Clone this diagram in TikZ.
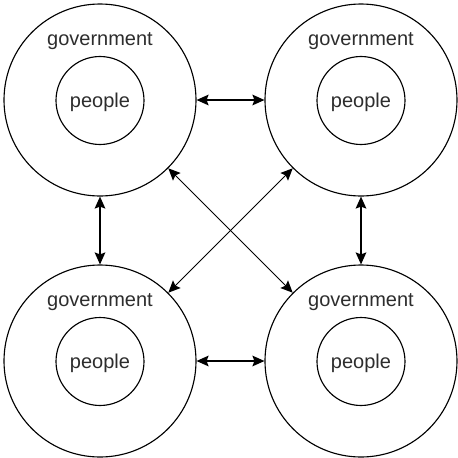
\documentclass[tikz,border=0pt]{standalone}
\usepackage{fontspec}
\setmainfont{Liberation Sans}
\usetikzlibrary{arrows.meta}
\definecolor{txt}{RGB}{45,45,45}
\tikzset{
  outer/.style={circle,draw,line width=0.85pt,minimum size=144pt,inner sep=0pt},
  inner/.style={circle,draw,line width=0.85pt,minimum size=66pt,inner sep=0pt},
  lbl/.style={font=\fontsize{15pt}{18pt}\selectfont,text=txt,inner sep=0pt},
  thick arrow/.style={line width=1.2pt,{Stealth[length=9pt,width=8pt,inset=1.5pt]}-{Stealth[length=9pt,width=8pt,inset=1.5pt]}},
  thin arrow/.style={line width=0.75pt,{Stealth[length=9pt,width=8pt,inset=1.5pt]}-{Stealth[length=9pt,width=8pt,inset=1.5pt]}}
}
\begin{document}
\begin{tikzpicture}[x=0.75pt,y=-0.75pt]
\useasboundingbox (0,0) rectangle (458,458);
% top-left
\node[outer] (g1) at (100,100) {};
\node[inner] (p1) at (100,100.5) {};
\node[lbl] (q1) at (100,102) {people};
\node[lbl] (t1) at (100,41.5) {government};
% top-right
\node[outer] (g2) at (361,100) {};
\node[inner] (p2) at (361,100.5) {};
\node[lbl] (q2) at (361,102) {people};
\node[lbl] (t2) at (361,41.5) {government};
% bottom-left
\node[outer] (g3) at (100,361) {};
\node[inner] (p3) at (100,361.5) {};
\node[lbl] (q3) at (100,363) {people};
\node[lbl] (t3) at (100,302.5) {government};
% bottom-right
\node[outer] (g4) at (361,361) {};
\node[inner] (p4) at (361,361.5) {};
\node[lbl] (q4) at (361,363) {people};
\node[lbl] (t4) at (361,302.5) {government};
% arrows
\draw[thick arrow] (g1.east) -- (g2.west);
\draw[thick arrow] (g3.east) -- (g4.west);
\draw[thick arrow] (g1.south) -- (g3.north);
\draw[thick arrow] (g2.south) -- (g4.north);
\draw[thin arrow] (g1.south east) -- (g4.north west);
\draw[thin arrow] (g2.south west) -- (g3.north east);
\end{tikzpicture}
\end{document}
